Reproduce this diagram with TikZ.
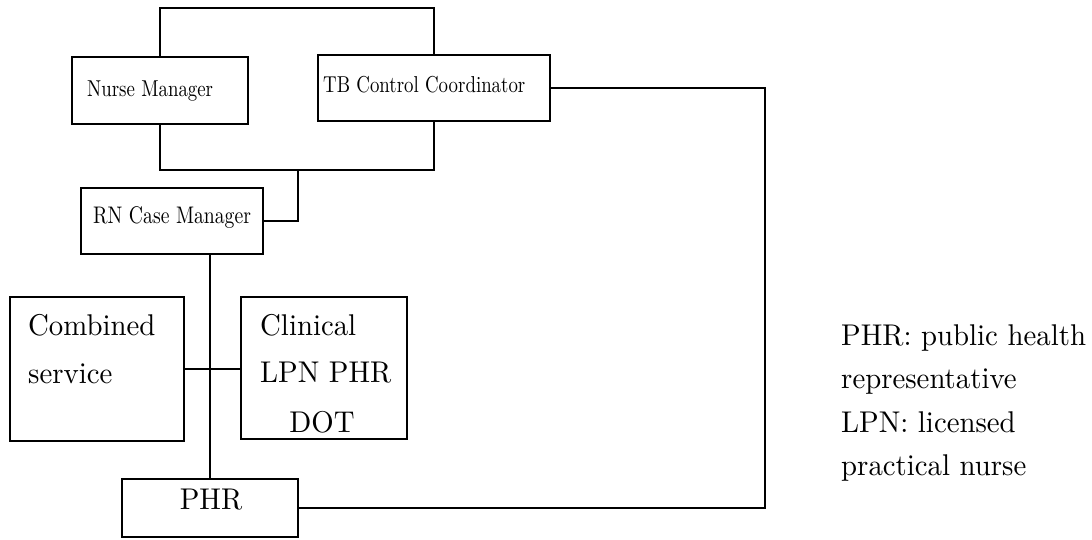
\documentclass[tikz,border=0pt]{standalone}
\usepackage{fontspec}
\setmainfont{lmroman10-regular.otf}
\newfontfamily\smallfam{lmroman10-regular.otf}[FakeStretch=0.82]
\newfontfamily\bigfam{lmroman10-regular.otf}[FakeStretch=0.96]
\begin{document}
\begin{tikzpicture}[x=1pt,y=-1pt,
  box/.style={draw, line width=2pt, rectangle, inner sep=0pt, outer sep=0pt},
  conn/.style={line width=2pt},
  small/.style={inner sep=0pt, anchor=base west, font=\smallfam\fontsize{23}{27}\selectfont},
  big/.style={inner sep=0pt, anchor=base west, font=\bigfam\fontsize{30}{36}\selectfont}]
\fill[white] (0,0) rectangle (1092,539);
\useasboundingbox (0,0) rectangle (1092,539);
% boxes
\node[box, minimum width=176pt, minimum height=67pt] (nm) at (160,90.5) {};
\node[box, minimum width=232pt, minimum height=66pt] (tb) at (434,88) {};
\node[box, minimum width=182pt, minimum height=66pt] (rn) at (172,221) {};
\node[box, minimum width=174pt, minimum height=144pt] (comb) at (97,369) {};
\node[box, minimum width=166pt, minimum height=142pt] (clin) at (324,368) {};
\node[box, minimum width=176pt, minimum height=58pt] (phr) at (210,508) {};
% texts
\node[small] (tnm) at (87,96) {Nurse Manager};
\node[small] (ttb) at (323,92) {TB Control Coordinator};
\node[small, font=\smallfam\fontsize{24}{27}\selectfont] (trn) at (93,223) {RN Case Manager};
\node[big] (tc1) at (28,335) {Combined};
\node[big] (tc2) at (28,383) {service};
\node[big] (tk1) at (260,335) {Clinical};
\node[big] (tk2) at (260,382) {LPN PHR};
\node[big, anchor=base] (tk3) at (322,432) {DOT};
\node[big, anchor=base] (tp) at (211,509) {PHR};
\node[big] (l1) at (841,345) {PHR: public health};
\node[big] (l2) at (841,388) {representative};
\node[big] (l3) at (841,432) {LPN: licensed};
\node[big] (l4) at (841,475) {practical nurse};
% helper coordinates
\coordinate (topY) at (0,8);
\coordinate (botY) at (0,170);
\coordinate (junc) at (298,170);
\coordinate (rightX) at (765,0);
% connectors
\draw[conn] (nm.north) |- (topY -| tb.north) -- (tb.north);
\draw[conn] (nm.south) |- (botY -| tb.south) -- (tb.south);
\draw[conn] (junc) |- (rn.east);
\draw[conn] (phr.north) -- (phr.north |- rn.south);
\draw[conn] (comb.east) -- (comb.east -| clin.west);
\draw[conn] (tb.east) -- (tb.east -| rightX) |- (phr.east);
\end{tikzpicture}
\end{document}
